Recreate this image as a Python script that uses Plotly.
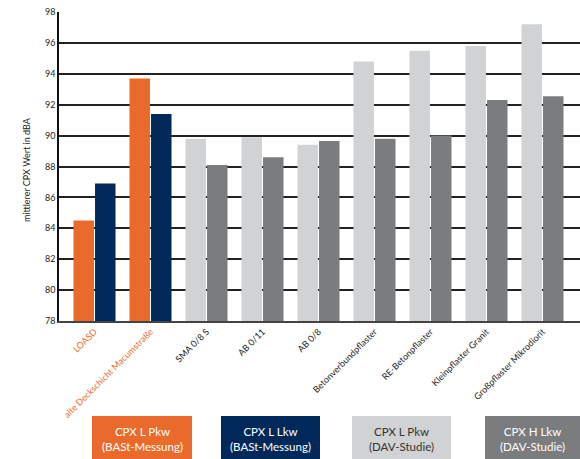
import plotly.graph_objects as go

categories = ["LOASD", "alte Deckschicht Macumstraße", "SMA 0/8 S", "AB 0/11", "AB 0/8",
              "Betonverbundpflaster", "RE-Betonpflaster", "Kleinpflaster Granit",
              "Großpflaster Mikrodiorit"]
bast_pkw = [84.5, 93.7, None, None, None, None, None, None, None]
bast_lkw = [86.9, 91.4, None, None, None, None, None, None, None]
dav_pkw = [None, None, 89.8, 89.9, 89.4, 94.8, 95.5, 95.8, 97.2]
dav_lkw = [None, None, 88.1, 88.6, 89.65, 89.8, 90.0, 92.3, 92.55]
series_names = ["CPX L Pkw<br>(BASt-Messung)", "CPX L Lkw<br>(BASt-Messung)",
                "CPX L Pkw<br>(DAV-Studie)", "CPX H Lkw<br>(DAV-Studie)"]
y_ticks = [78, 80, 82, 84, 86, 88, 90, 92, 94, 96, 98]

ORANGE = "#E96A2A"
NAVY = "#00295A"
LIGHT = "#D1D2D4"
DARK = "#7B7C7E"
colors = [ORANGE, NAVY, LIGHT, DARK]
text_colors = ["white", "white", "#333333", "white"]
tick_colors = [ORANGE, ORANGE] + ["#1a1a1a"] * 7

FONT = "Lato"

fig = go.Figure()
for vals, col, grp, nm in zip([bast_pkw, bast_lkw, dav_pkw, dav_lkw], colors,
                              ["pkw", "lkw", "pkw", "lkw"], series_names):
    fig.add_trace(go.Bar(x=categories, y=[(v - 78) if v is not None else None for v in vals],
                         base=78, marker=dict(color=col, line=dict(width=0)),
                         offsetgroup=grp, name=nm, showlegend=False))

W, H = 580, 459
ML, MR, MT, MB = 59, 0, 12, 138
PW, PH = W - ML - MR, H - MT - MB


def px(x):
    return (x - ML) / PW


def py(y):
    return (H - MB - y) / PH


ticktext = [f'<span style="color:{c}">{t}</span>' for t, c in zip(categories, tick_colors)]

boxes = [(92, 192), (221, 320), (352, 451), (485, 580)]
shapes = []
annotations = []
for (x0, x1), col, tc, nm in zip(boxes, colors, text_colors, series_names):
    shapes.append(dict(type="rect", xref="paper", yref="paper",
                       x0=px(x0), x1=px(x1), y0=py(416), y1=py(462),
                       fillcolor=col, line=dict(width=0), layer="above"))
    annotations.append(dict(xref="paper", yref="paper", x=px((x0 + x1) / 2), y=py(438.5),
                            text=nm, showarrow=False, xanchor="center", yanchor="middle",
                            font=dict(family=FONT, size=11.5, color=tc), align="center"))

annotations.append(dict(xref="paper", yref="paper", x=px(27), y=py(170),
                        text="mittlerer CPX Wert in dBA", textangle=-90, showarrow=False,
                        xanchor="center", yanchor="middle",
                        font=dict(family=FONT, size=9, color="#222222")))

fig.update_layout(
    width=W, height=H,
    margin=dict(l=ML, r=MR, t=MT, b=MB, pad=0),
    paper_bgcolor="white", plot_bgcolor="white",
    barmode="group", bargap=0.23, bargroupgap=0.05,
    shapes=shapes, annotations=annotations,
    font=dict(family=FONT, size=9, color="#222222"),
    xaxis=dict(type="category", range=[-0.634, 8.67], tickmode="array",
               tickvals=categories, ticktext=ticktext, tickangle=-45,
               showgrid=False, showline=True, linecolor="#444444", linewidth=2,
               ticks="", tickfont=dict(family=FONT, size=9)),
    yaxis=dict(range=[78, 98], tickvals=y_ticks, showgrid=True, gridcolor="#222222",
               gridwidth=1.5, showline=True, linecolor="#111111", linewidth=1.5,
               zeroline=False, ticks="", tickfont=dict(family=FONT, size=9)),
)

fig.write_html("out.html", config={"displayModeBar": False},
               post_script="document.body.style.margin='0';document.body.style.overflow='hidden';")
